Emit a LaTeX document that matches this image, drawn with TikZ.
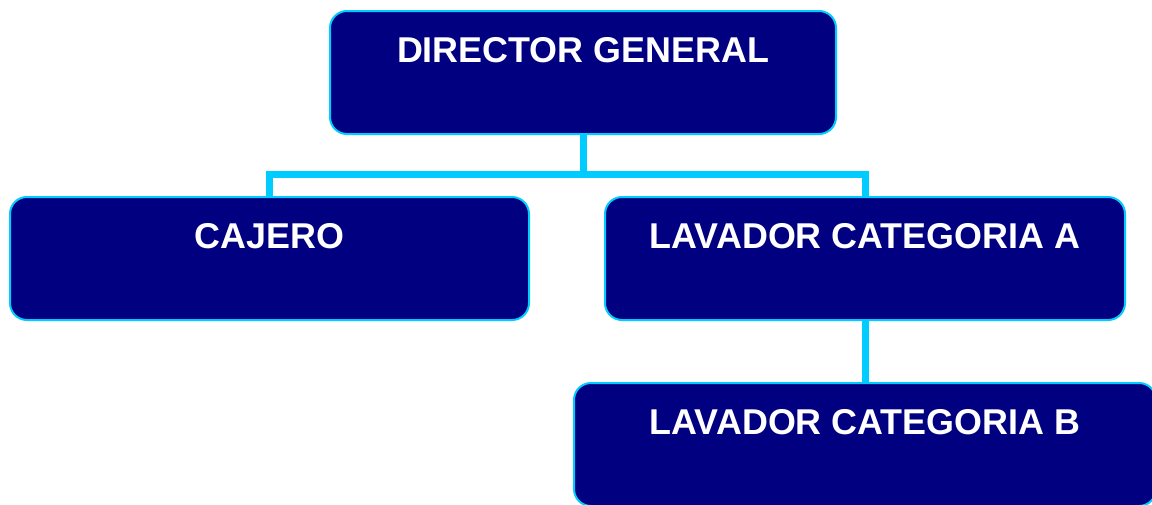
\documentclass[tikz,border=0pt]{standalone}
\usepackage{fontspec}
\setmainfont{Liberation Sans}
\definecolor{navybox}{HTML}{000080}
\definecolor{cyanline}{HTML}{00CCFF}
\begin{document}
\begin{tikzpicture}[x=0.75pt,y=-0.75pt,
  puesto/.style={draw=cyanline, line width=1.5pt, fill=navybox, rounded corners=12.75pt,
    text=white, font=\bfseries\fontsize{26.9}{30}\selectfont, anchor=north,
    inner xsep=0pt, inner ysep=0pt, text height=38.25pt, text depth=54pt},
  enlace/.style={draw=cyanline, line width=5.25pt}]
\useasboundingbox[fill=white] (0,0) rectangle (1152,504);
\node[puesto, minimum width=379.5pt] (dir) at (583,10) {DIRECTOR GENERAL};
\node[puesto, minimum width=389.25pt] (caj) at (269.5,196) {CAJERO};
\node[puesto, minimum width=390pt] (lavA) at (865,196) {LAVADOR CATEGORIA A};
\node[puesto, minimum width=436.5pt] (lavB) at (865,382) {LAVADOR CATEGORIA B};
\draw[enlace] (dir.south) -- ++(0,39) coordinate (bus) -| (caj.north);
\draw[enlace] (bus) -| (lavA.north);
\draw[enlace] (lavA.south) -- (lavB.north);
\end{tikzpicture}
\end{document}
